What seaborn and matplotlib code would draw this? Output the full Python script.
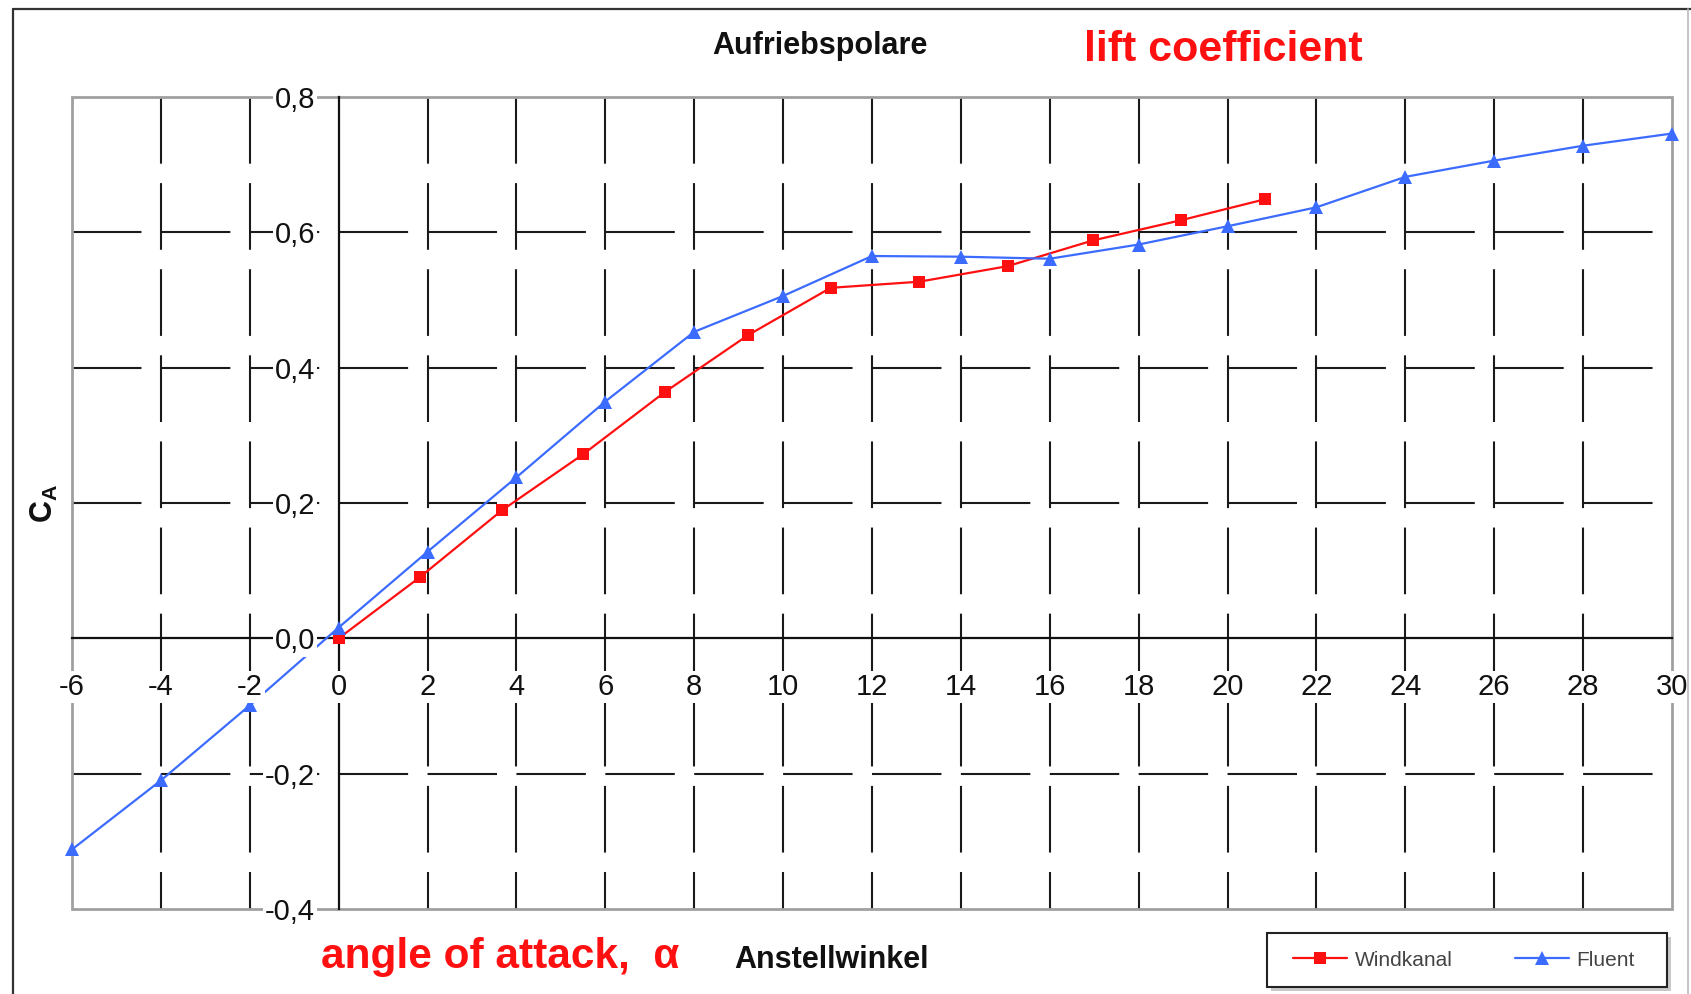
"""
Aufriebspolare: lift coefficient C_A vs. angle of attack,
wind tunnel (Windkanal) against CFD (Fluent).
"""

import matplotlib
matplotlib.use("Agg")
import matplotlib.pyplot as plt
from matplotlib.lines import Line2D
from matplotlib.patches import Rectangle
import seaborn as sns

W, H = 1691, 994

# Fluent, every 2 degrees
fluent_alpha = [-6, -4, -2, 0, 2, 4, 6, 8, 10, 12, 14, 16, 18, 20, 22, 24, 26, 28, 30]
fluent_ca = [-0.312, -0.21, -0.099, 0.016, 0.128, 0.238, 0.35, 0.453, 0.506, 0.565,
             0.564, 0.561, 0.582, 0.609, 0.637, 0.682, 0.706, 0.728, 0.746]

# wind tunnel measurement
windkanal_alpha = [0.0, 1.82, 3.67, 5.5, 7.34, 9.21, 11.07, 13.06, 15.05, 16.97, 18.96, 20.85]
windkanal_ca = [0.0, 0.09, 0.189, 0.272, 0.364, 0.448, 0.518, 0.527, 0.55, 0.588, 0.618, 0.649]

x_ticks = list(range(-6, 31, 2))
x_tick_labels = [str(v) for v in x_ticks]
y_ticks = [-0.4, -0.2, 0.0, 0.2, 0.4, 0.6, 0.8]
y_tick_labels = ["-0,4", "-0,2", "0,0", "0,2", "0,4", "0,6", "0,8"]


def fig_box(fig, x0, y0, x1, y1, **kw):
    # rectangle given in pixel coords of the figure (origin top left)
    return fig.add_artist(Rectangle((x0 / W, 1 - y1 / H), (x1 - x0) / W, (y1 - y0) / H,
                                    transform=fig.transFigure, **kw))


def main():
    sns.set_style("white")
    plt.rcParams["font.family"] = ["Liberation Sans", "DejaVu Sans"]
    plt.rcParams["lines.scale_dashes"] = False
    plt.rcParams["mathtext.fontset"] = "custom"
    plt.rcParams["mathtext.rm"] = "Liberation Sans"
    plt.rcParams["mathtext.bf"] = "Liberation Sans:bold"

    fig = plt.figure(figsize=(W / 100, H / 100), dpi=100)
    ax = fig.add_axes([72 / W, 1 - 909 / H, 1600 / W, 812 / H])
    ax.set_xlim(-6, 30)
    ax.set_ylim(-0.4, 0.8)

    # Excel style dashed grid
    h_grid = [v for v in y_ticks if -0.4 < v < 0.8 and v != 0]
    v_grid = [v for v in x_ticks if -6 < v < 30 and v != 0]
    ax.hlines(h_grid, -6, 30, colors="#1a1a1a", linewidth=1.5,
              linestyles=[(0, (50, 14))], zorder=1)
    ax.vlines(v_grid, 0.8, -0.4, colors="#1a1a1a", linewidth=1.5,
              linestyles=[(0, (48, 14))], zorder=1)
    ax.add_patch(Rectangle((0, 0), 1, 1, transform=ax.transAxes, fill=False,
                           edgecolor="#a0a0a0", linewidth=2, zorder=1.5, clip_on=False))

    sns.lineplot(x=windkanal_alpha, y=windkanal_ca, ax=ax, color="#ff1010",
                 marker="s", markersize=8, markeredgewidth=0, linewidth=1.6,
                 sort=False, estimator=None, label="Windkanal", zorder=4, clip_on=False)
    sns.lineplot(x=fluent_alpha, y=fluent_ca, ax=ax, color="#3c6cff",
                 marker="^", markersize=10.5, markeredgewidth=0, linewidth=1.6,
                 sort=False, estimator=None, label="Fluent", zorder=4, clip_on=False)

    for s in ["top", "right"]:
        ax.spines[s].set_visible(False)
    for s in ["left", "bottom"]:
        ax.spines[s].set_position(("data", 0))
        ax.spines[s].set_color("#111111")
        ax.spines[s].set_linewidth(1.6)
        ax.spines[s].set_zorder(2)

    ax.set_xticks(x_ticks)
    ax.set_xticklabels(x_tick_labels)
    ax.set_yticks(y_ticks)
    ax.set_yticklabels(y_tick_labels)
    ax.tick_params(axis="x", length=0, pad=25, labelsize=21, colors="#111111")
    ax.tick_params(axis="y", length=0, pad=17, labelsize=21, colors="#111111")
    for lab in ax.get_xticklabels() + ax.get_yticklabels():
        lab.set_bbox(dict(facecolor="white", edgecolor="none", pad=1.5))
    ax.xaxis.set_zorder(5)
    ax.yaxis.set_zorder(5)
    ax.set_xlabel("")
    ax.set_ylabel("")

    # legend box (drawn by hand so it gets the original's width) + entries
    fig_box(fig, 1271, 937, 1671, 991, facecolor="#c8c8c8", edgecolor="none", zorder=3)
    fig_box(fig, 1267, 933, 1667, 987, facecolor="white", edgecolor="#222222",
            linewidth=1.5, zorder=3.1)
    handles, labels = ax.get_legend_handles_labels()
    if ax.get_legend() is not None:
        ax.get_legend().remove()
    leg = fig.legend(handles, labels, loc="center",
                     bbox_to_anchor=(1464 / W, 1 - 960 / H),
                     ncol=2, frameon=False, fontsize=15, handlelength=2.6,
                     handletextpad=0.35, columnspacing=3.0, labelcolor="#444444")
    leg.set_zorder(4)

    # titles / axis names
    fig.text(820 / W, 1 - 46 / H, "Aufriebspolare", ha="center", va="center",
             fontsize=22, fontweight="bold", color="#111111")
    fig.text(1084 / W, 1 - 50 / H, "lift coefficient", ha="left", va="center",
             fontsize=31, fontweight="bold", color="#ff1010")
    fig.text(321 / W, 1 - 957 / H, "angle of attack,  \u03b1", ha="left", va="center",
             fontsize=30.5, fontweight="bold", color="#ff1010")
    fig.text(831 / W, 1 - 960 / H, "Anstellwinkel", ha="center", va="center",
             fontsize=22, fontweight="bold", color="#111111")
    fig.text(44 / W, 1 - 503 / H, r"$\mathbf{C}_{\mathbf{A}}$", ha="center", va="center",
             rotation=90, fontsize=22, color="#111111")

    # outer frame of the original chart
    fig.add_artist(Line2D([13 / W, 1], [1 - 9 / H, 1 - 9 / H], transform=fig.transFigure,
                          color="#333333", linewidth=1.6))
    fig.add_artist(Line2D([13 / W, 13 / W], [0, 1 - 9 / H], transform=fig.transFigure,
                          color="#333333", linewidth=1.6))
    fig.add_artist(Line2D([1688 / W, 1688 / W], [0, 1 - 9 / H], transform=fig.transFigure,
                          color="#bbbbbb", linewidth=1.2))

    fig.savefig("out.png", dpi=100)
    plt.close(fig)


if __name__ == "__main__":
    main()
